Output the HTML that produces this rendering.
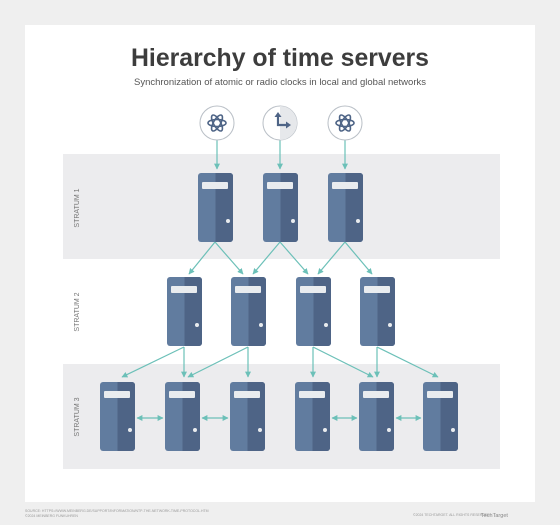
<!DOCTYPE html>
<html><head><meta charset="utf-8"><style>
html,body{margin:0;padding:0;}
body{width:560px;height:525px;background:#efefef;position:relative;overflow:hidden;font-family:"Liberation Sans",sans-serif;}
</style></head><body>
<svg width="560" height="525" viewBox="0 0 560 525" xmlns="http://www.w3.org/2000/svg" style="position:absolute;left:0;top:0">
<defs>
<marker id="a" viewBox="0 0 10 10" refX="9" refY="5" markerWidth="5" markerHeight="5" orient="auto-start-reverse">
<path d="M0,0 L10,5 L0,10 z" fill="#6cc0b8"/></marker>
<g id="srv">
<rect x="0" y="0" width="35" height="69" rx="3" fill="#617c9f"/>
<path d="M17.5,0 H32 a3,3 0 0 1 3,3 V66 a3,3 0 0 1 -3,3 H17.5 z" fill="#4e6486"/>
<rect x="4" y="9" width="26" height="7" rx="1" fill="#e9ecef"/>
<circle cx="30" cy="48" r="2" fill="#e9ecef"/>
</g>
</defs>
<rect x="25" y="25" width="510" height="477" fill="#fff"/>
<rect x="63" y="154" width="437" height="105" fill="#ececee"/>
<rect x="63" y="364" width="437" height="105" fill="#ececee"/>
<text x="280" y="66" text-anchor="middle" font-size="25" font-weight="bold" fill="#3d3d3d" textLength="298" lengthAdjust="spacingAndGlyphs">Hierarchy of time servers</text>
<text x="280" y="85" text-anchor="middle" font-size="9.5" fill="#555">Synchronization of atomic or radio clocks in local and global networks</text>
<g font-size="7" fill="#777" text-anchor="middle">
<text transform="translate(79,208) rotate(-90)">STRATUM 1</text>
<text transform="translate(79,312) rotate(-90)">STRATUM 2</text>
<text transform="translate(79,417) rotate(-90)">STRATUM 3</text>
</g>
<g stroke="#6cc0b8" stroke-width="1.2" fill="none" marker-end="url(#a)">
<line x1="217" y1="140" x2="217" y2="169"/>
<line x1="280" y1="140" x2="280" y2="169"/>
<line x1="345" y1="140" x2="345" y2="169"/>
<line x1="215" y1="242" x2="189" y2="274"/>
<line x1="215" y1="242" x2="243" y2="274"/>
<line x1="280" y1="242" x2="253" y2="274"/>
<line x1="280" y1="242" x2="308" y2="274"/>
<line x1="345" y1="242" x2="318" y2="274"/>
<line x1="345" y1="242" x2="372" y2="274"/>
<line x1="184" y1="347" x2="122" y2="377"/>
<line x1="184" y1="347" x2="184" y2="377"/>
<line x1="248" y1="347" x2="188" y2="377"/>
<line x1="248" y1="347" x2="248" y2="377"/>
<line x1="313" y1="347" x2="313" y2="377"/>
<line x1="313" y1="347" x2="373" y2="377"/>
<line x1="377" y1="347" x2="377" y2="377"/>
<line x1="377" y1="347" x2="438" y2="377"/>
</g>
<g stroke="#6cc0b8" stroke-width="1.2" fill="none" marker-start="url(#a)" marker-end="url(#a)">
<line x1="137" y1="418" x2="163" y2="418"/>
<line x1="202" y1="418" x2="228" y2="418"/>
<line x1="332" y1="418" x2="357" y2="418"/>
<line x1="396" y1="418" x2="421" y2="418"/>
</g>
<g>
<circle cx="217" cy="123" r="17" fill="#fff" stroke="#b9bfc6" stroke-width="1"/>
<circle cx="280" cy="123" r="17" fill="#fff" stroke="#b9bfc6" stroke-width="1"/>
<path d="M280,106 a17,17 0 0 1 0,34 z" fill="#e6e8eb"/>
<circle cx="345" cy="123" r="17" fill="#fff" stroke="#b9bfc6" stroke-width="1"/>
<g fill="none" stroke="#4e6486" stroke-width="1.6">
<ellipse cx="217" cy="123" rx="9" ry="3.5"/><ellipse cx="217" cy="123" rx="9" ry="3.5" transform="rotate(60 217 123)"/><ellipse cx="217" cy="123" rx="9" ry="3.5" transform="rotate(-60 217 123)"/>
<ellipse cx="345" cy="123" rx="9" ry="3.5"/><ellipse cx="345" cy="123" rx="9" ry="3.5" transform="rotate(60 345 123)"/><ellipse cx="345" cy="123" rx="9" ry="3.5" transform="rotate(-60 345 123)"/>
<path d="M278,115 V125 H287" stroke-width="2.2"/>
</g>
<path d="M274.5,117 L278,112 L281.5,117 z M286,121.5 L291,125 L286,128.5 z" fill="#4e6486"/>
</g>
<use href="#srv" x="198" y="173"/><use href="#srv" x="263" y="173"/><use href="#srv" x="328" y="173"/>
<use href="#srv" x="167" y="277"/><use href="#srv" x="231" y="277"/><use href="#srv" x="296" y="277"/><use href="#srv" x="360" y="277"/>
<use href="#srv" x="100" y="382"/><use href="#srv" x="165" y="382"/><use href="#srv" x="230" y="382"/><use href="#srv" x="295" y="382"/><use href="#srv" x="359" y="382"/><use href="#srv" x="423" y="382"/>
<g font-size="3.5" fill="#999">
<text x="25" y="512">SOURCE: HTTPS://WWW.MEINBERG.DE/SUPPORT/INFORMATION/NTP-THE-NETWORK-TIME-PROTOCOL.HTM</text>
<text x="25" y="517">©2024 MEINBERG FUNKUHREN</text>
<text x="413" y="516">©2024 TECHTARGET. ALL RIGHTS RESERVED.</text>
</g>
<text x="481" y="517" font-size="5.5" fill="#888">TechTarget</text>
</svg>
</body></html>
